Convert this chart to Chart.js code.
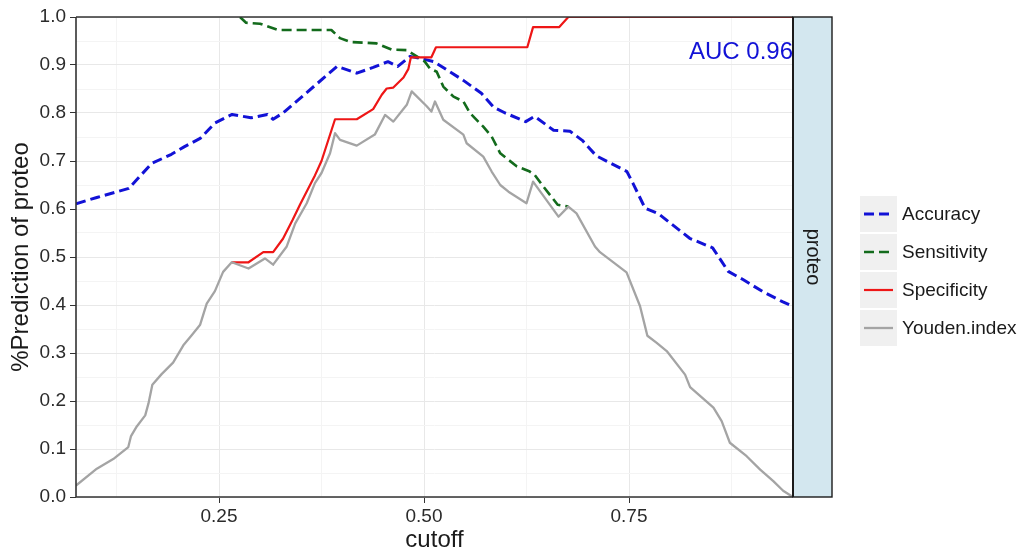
<!DOCTYPE html>
<html>
<head>
<meta charset="utf-8">
<script src="https://cdn.jsdelivr.net/npm/chart.js@4/dist/chart.umd.min.js"></script>
<style>
  html, body { margin: 0; padding: 0; background: #ffffff; }
  #wrap { width: 1025px; height: 559px; }
</style>
</head>
<body>
<div id="wrap"><canvas id="chart" width="1025" height="559"></canvas></div>
<script>
// Cutoff sweep of the classifier for "proteo": each metric as (cutoff, value) pairs.
const accuracyCutoff = [0.0756, 0.101, 0.140, 0.168, 0.192, 0.208, 0.227, 0.245, 0.266, 0.289, 0.309, 0.316, 0.328, 0.394, 0.418, 0.438, 0.456, 0.468, 0.483, 0.495, 0.512, 0.548, 0.570, 0.585, 0.599, 0.624, 0.635, 0.658, 0.678, 0.693, 0.710, 0.7475, 0.755, 0.7695, 0.786, 0.824, 0.852, 0.871, 0.889, 0.913, 0.937, 0.950];
const accuracyValue  = [0.611, 0.624, 0.643, 0.695, 0.714, 0.730, 0.747, 0.779, 0.797, 0.790, 0.797, 0.787, 0.800, 0.897, 0.883, 0.895, 0.907, 0.897, 0.918, 0.914, 0.907, 0.868, 0.841, 0.812, 0.800, 0.782, 0.793, 0.764, 0.762, 0.743, 0.711, 0.678, 0.653, 0.602, 0.590, 0.539, 0.519, 0.470, 0.453, 0.428, 0.407, 0.397];

const sensitivityCutoff = [0.2756, 0.283, 0.300, 0.322, 0.387, 0.3975, 0.410, 0.442, 0.4605, 0.479, 0.495, 0.501, 0.507, 0.5155, 0.5235, 0.536, 0.548, 0.556, 0.572, 0.5825, 0.593, 0.613, 0.629, 0.635, 0.6455, 0.663, 0.676];
const sensitivityValue  = [1.000, 0.988, 0.986, 0.973, 0.973, 0.956, 0.948, 0.945, 0.932, 0.931, 0.914, 0.907, 0.893, 0.886, 0.855, 0.834, 0.824, 0.800, 0.772, 0.751, 0.716, 0.689, 0.678, 0.671, 0.647, 0.609, 0.605];

const specificityCutoff = [0.2655, 0.286, 0.304, 0.316, 0.328, 0.340, 0.349, 0.359, 0.367, 0.375, 0.3915, 0.418, 0.438, 0.4485, 0.4545, 0.4626, 0.475, 0.481, 0.484, 0.509, 0.5146, 0.626, 0.633, 0.665, 0.676, 0.950];
const specificityValue  = [0.489, 0.489, 0.510, 0.510, 0.538, 0.578, 0.610, 0.643, 0.670, 0.700, 0.787, 0.787, 0.808, 0.838, 0.851, 0.853, 0.874, 0.892, 0.916, 0.916, 0.937, 0.937, 0.979, 0.979, 1.000, 1.000];

const youdenCutoff = [0.0756, 0.101, 0.121, 0.1394, 0.1427, 0.1497, 0.160, 0.164, 0.1687, 0.180, 0.194, 0.2065, 0.2167, 0.227, 0.235, 0.245, 0.255, 0.2655, 0.286, 0.306, 0.316, 0.3326, 0.343, 0.357, 0.367, 0.375, 0.3854, 0.3915, 0.3976, 0.418, 0.440, 0.4525, 0.4626, 0.479, 0.485, 0.5033, 0.509, 0.5134, 0.5235, 0.548, 0.552, 0.5723, 0.5825, 0.593, 0.603, 0.625, 0.633, 0.6476, 0.664, 0.676, 0.686, 0.7085, 0.7146, 0.747, 0.7634, 0.7695, 0.7724, 0.7838, 0.796, 0.8184, 0.8245, 0.853, 0.863, 0.873, 0.8935, 0.910, 0.926, 0.938, 0.948, 0.950];
const youdenValue  = [0.024, 0.059, 0.079, 0.104, 0.127, 0.147, 0.170, 0.195, 0.234, 0.256, 0.280, 0.316, 0.337, 0.359, 0.403, 0.429, 0.469, 0.489, 0.476, 0.497, 0.484, 0.522, 0.570, 0.612, 0.654, 0.675, 0.716, 0.758, 0.744, 0.732, 0.755, 0.796, 0.782, 0.817, 0.845, 0.814, 0.803, 0.824, 0.786, 0.755, 0.737, 0.709, 0.678, 0.650, 0.636, 0.612, 0.657, 0.6225, 0.584, 0.605, 0.591, 0.522, 0.510, 0.468, 0.398, 0.356, 0.336, 0.321, 0.304, 0.255, 0.229, 0.186, 0.158, 0.113, 0.085, 0.057, 0.033, 0.013, 0.002, 0.000];

const seriesNames = ['Accuracy', 'Sensitivity', 'Specificity', 'Youden.index'];
const xTickValues = [0.125, 0.25, 0.375, 0.5, 0.625, 0.75, 0.875];
const xTickLabels = ['', '0.25', '', '0.50', '', '0.75', ''];
const yTickLabels = ['0.0', '0.1', '0.2', '0.3', '0.4', '0.5', '0.6', '0.7', '0.8', '0.9', '1.0'];
const panelLabel = 'proteo';
const aucText = 'AUC 0.96';

const FONT = '"Liberation Sans", Arial, Helvetica, sans-serif';
const COLORS = ['#1212d6', '#136b1c', '#ee1616', '#a4a4a4'];
const DASHES = [[10, 5], [10, 5], [], []];
const WIDTHS = [3, 2.6, 2.2, 2.3];

const toPoints = (xs, ys) => xs.map((x, i) => ({ x: x, y: ys[i] }));
const seriesData = [
  toPoints(accuracyCutoff, accuracyValue),
  toPoints(sensitivityCutoff, sensitivityValue),
  toPoints(specificityCutoff, specificityValue),
  toPoints(youdenCutoff, youdenValue)
];
const drawOrder = [4, 3, 2, 1];

const datasets = seriesNames.map((name, i) => ({
  label: name,
  data: seriesData[i],
  borderColor: COLORS[i],
  borderWidth: WIDTHS[i],
  borderDash: DASHES[i],
  borderCapStyle: 'butt',
  borderJoinStyle: 'round',
  pointRadius: 0,
  tension: 0,
  fill: false,
  clip: 0,
  order: drawOrder[i]
}));

const isMajorX = v => Math.abs(v * 4 - Math.round(v * 4)) < 1e-6;

// Axis lines, facet strip, AUC annotation and the legend.
const decorations = {
  id: 'decorations',
  afterDatasetsDraw(chart) {
    const { ctx, chartArea: a } = chart;
    ctx.save();
    // AUC annotation
    ctx.fillStyle = '#1212d6';
    ctx.font = '24px ' + FONT;
    ctx.textAlign = 'right';
    ctx.textBaseline = 'alphabetic';
    ctx.fillText(aucText, a.right, 58.5);

    // axis lines
    ctx.strokeStyle = '#333333';
    ctx.lineWidth = 1.6;
    ctx.beginPath();
    ctx.moveTo(a.left, a.top);
    ctx.lineTo(a.left, a.bottom);
    ctx.lineTo(a.right, a.bottom);
    ctx.stroke();
    ctx.lineWidth = 1.4;
    ctx.beginPath();
    ctx.moveTo(a.left, a.top);
    ctx.lineTo(a.right, a.top);
    ctx.stroke();

    // facet strip on the right
    const sw = 39;
    ctx.fillStyle = '#d3e7ef';
    ctx.fillRect(a.right, a.top, sw, a.bottom - a.top);
    ctx.strokeStyle = '#1a1a1a';
    ctx.lineWidth = 1.4;
    ctx.strokeRect(a.right, a.top, sw, a.bottom - a.top);
    ctx.lineWidth = 2;
    ctx.beginPath();
    ctx.moveTo(a.right, a.top);
    ctx.lineTo(a.right, a.bottom);
    ctx.stroke();
    ctx.translate(a.right + sw / 2, (a.top + a.bottom) / 2);
    ctx.rotate(Math.PI / 2);
    ctx.fillStyle = '#1a1a1a';
    ctx.font = '20px ' + FONT;
    ctx.textAlign = 'center';
    ctx.textBaseline = 'middle';
    ctx.fillText(panelLabel, 0, 0);
    ctx.restore();
  },
  afterDraw(chart) {
    const { ctx } = chart;
    ctx.save();
    const boxX = 860, boxW = 37, boxH = 36;
    const rowY = [214, 252, 290, 328];
    seriesNames.forEach((name, i) => {
      const cy = rowY[i];
      ctx.fillStyle = '#f0f0f0';
      ctx.fillRect(boxX, cy - boxH / 2, boxW, boxH);
      ctx.strokeStyle = COLORS[i];
      ctx.lineWidth = WIDTHS[i];
      ctx.setLineDash(DASHES[i]);
      ctx.beginPath();
      ctx.moveTo(boxX + 4, cy);
      ctx.lineTo(boxX + boxW - 4, cy);
      ctx.stroke();
      ctx.setLineDash([]);
      ctx.fillStyle = '#1a1a1a';
      ctx.font = '19px ' + FONT;
      ctx.textAlign = 'left';
      ctx.textBaseline = 'middle';
      ctx.fillText(name, boxX + boxW + 5, cy + 1);
    });
    ctx.restore();
  }
};

new Chart(document.getElementById('chart'), {
  type: 'line',
  data: { datasets: datasets },
  options: {
    responsive: false,
    animation: false,
    devicePixelRatio: 1,
    layout: { padding: { top: 17, right: 232, left: 0, bottom: 0 } },
    plugins: { legend: { display: false }, tooltip: { enabled: false } },
    scales: {
      x: {
        type: 'linear',
        min: 0.0756,
        max: 0.95,
        afterBuildTicks: s => { s.ticks = xTickValues.map(v => ({ value: v })); },
        afterFit: s => { s.height = 62; },
        border: { display: false },
        grid: {
          color: c => (c.tick && isMajorX(c.tick.value) ? '#e8e8e8' : '#f4f4f4'),
          tickColor: c => (c.tick && isMajorX(c.tick.value) ? '#333333' : 'rgba(0,0,0,0)'),
          tickLength: 6,
          lineWidth: 1
        },
        ticks: {
          autoSkip: false,
          maxRotation: 0,
          padding: 2,
          color: '#2b2b2b',
          font: { family: FONT, size: 19 },
          callback: v => {
            const idx = xTickValues.findIndex(t => Math.abs(t - v) < 1e-6);
            return idx >= 0 ? xTickLabels[idx] : '';
          }
        },
        title: {
          display: true,
          text: 'cutoff',
          color: '#1a1a1a',
          font: { family: FONT, size: 24 },
          padding: { top: 0, bottom: 4 }
        }
      },
      y: {
        type: 'linear',
        min: 0,
        max: 1,
        afterFit: s => { s.width = 76; },
        border: { display: false },
        grid: {
          color: c => (c.index % 2 === 0 ? '#e8e8e8' : '#f4f4f4'),
          tickColor: c => (c.index % 2 === 0 ? '#333333' : 'rgba(0,0,0,0)'),
          tickLength: 6,
          lineWidth: 1
        },
        ticks: {
          stepSize: 0.05,
          autoSkip: false,
          padding: 4,
          color: '#2b2b2b',
          font: { family: FONT, size: 19 },
          callback: (v, i) => (i % 2 === 0 ? yTickLabels[i / 2] : '')
        },
        title: {
          display: true,
          text: '%Prediction of proteo',
          color: '#1a1a1a',
          font: { family: FONT, size: 24 },
          padding: { top: 7, bottom: 0 }
        }
      }
    }
  },
  plugins: [decorations]
});
</script>
</body>
</html>
